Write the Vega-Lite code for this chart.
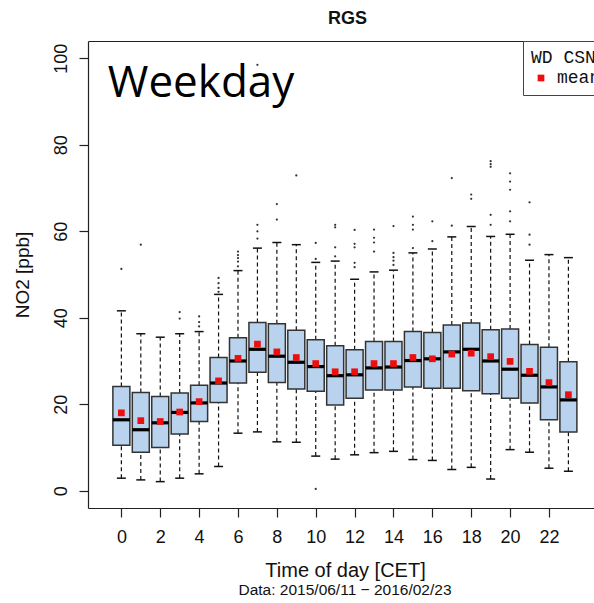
{
  "$schema": "https://vega.github.io/schema/vega-lite/v6.json",
  "width": 506,
  "height": 467,
  "autosize": {"type": "none"},
  "padding": {"left": 88, "top": 41, "right": 0, "bottom": 95},
  "background": "white",
  "config": {
    "view": {"stroke": null},
    "font": "Liberation Sans",
    "axis": {"domainColor": "#222", "tickColor": "#222", "labelColor": "#111", "titleColor": "#111", "grid": false, "domainWidth": 1.2, "tickWidth": 1.2}
  },
  "title": {
    "text": "Data: 2015/06/11 − 2016/02/23",
    "orient": "bottom",
    "frame": "group",
    "anchor": "middle",
    "dx": 4,
    "offset": 3,
    "baseline": "top",
    "fontSize": 15.5,
    "fontWeight": "normal",
    "font": "Liberation Sans",
    "color": "#111"
  },
  "datasets": {
    "boxes": [
      {"hour": 0, "lo": 2.9, "q1": 10.5, "med": 16.4, "q3": 24.1, "hi": 41.6, "mean": 18.0},
      {"hour": 1, "lo": 2.5, "q1": 8.9, "med": 14.1, "q3": 22.7, "hi": 36.3, "mean": 16.2},
      {"hour": 2, "lo": 2.1, "q1": 10.0, "med": 15.7, "q3": 21.8, "hi": 35.5, "mean": 16.0},
      {"hour": 3, "lo": 2.9, "q1": 13.1, "med": 18.1, "q3": 22.6, "hi": 36.3, "mean": 18.2},
      {"hour": 4, "lo": 3.9, "q1": 16.0, "med": 20.3, "q3": 24.4, "hi": 36.8, "mean": 20.6},
      {"hour": 5, "lo": 5.6, "q1": 20.4, "med": 24.9, "q3": 30.8, "hi": 45.4, "mean": 25.4},
      {"hour": 6, "lo": 13.3, "q1": 24.9, "med": 30.0, "q3": 35.4, "hi": 50.9, "mean": 30.6},
      {"hour": 7, "lo": 13.6, "q1": 27.4, "med": 32.7, "q3": 38.9, "hi": 56.1, "mean": 33.9},
      {"hour": 8, "lo": 11.3, "q1": 25.0, "med": 31.1, "q3": 38.6, "hi": 57.4, "mean": 32.1},
      {"hour": 9, "lo": 11.2, "q1": 23.5, "med": 29.7, "q3": 37.1, "hi": 56.9, "mean": 30.8},
      {"hour": 10, "lo": 8.0, "q1": 23.0, "med": 28.7, "q3": 34.9, "hi": 52.8, "mean": 29.4},
      {"hour": 11, "lo": 7.3, "q1": 19.8, "med": 26.6, "q3": 33.5, "hi": 53.1, "mean": 27.5},
      {"hour": 12, "lo": 8.3, "q1": 21.4, "med": 26.8, "q3": 32.6, "hi": 48.9, "mean": 27.5},
      {"hour": 13, "lo": 8.8, "q1": 23.3, "med": 28.4, "q3": 34.5, "hi": 50.6, "mean": 29.4},
      {"hour": 14, "lo": 9.1, "q1": 23.3, "med": 28.6, "q3": 34.5, "hi": 51.0, "mean": 29.4},
      {"hour": 15, "lo": 7.2, "q1": 24.0, "med": 30.1, "q3": 36.8, "hi": 55.0, "mean": 30.8},
      {"hour": 16, "lo": 7.0, "q1": 23.7, "med": 30.5, "q3": 36.6, "hi": 55.9, "mean": 30.5},
      {"hour": 17, "lo": 4.9, "q1": 23.7, "med": 32.1, "q3": 38.3, "hi": 58.7, "mean": 31.6},
      {"hour": 18, "lo": 5.4, "q1": 23.1, "med": 32.7, "q3": 38.8, "hi": 61.1, "mean": 31.8},
      {"hour": 19, "lo": 2.7, "q1": 22.4, "med": 30.0, "q3": 37.2, "hi": 58.8, "mean": 31.0},
      {"hour": 20, "lo": 9.5, "q1": 21.4, "med": 28.1, "q3": 37.4, "hi": 59.3, "mean": 29.9},
      {"hour": 21, "lo": 8.9, "q1": 20.3, "med": 26.7, "q3": 33.8, "hi": 53.3, "mean": 27.6},
      {"hour": 22, "lo": 5.2, "q1": 16.4, "med": 24.0, "q3": 33.2, "hi": 54.6, "mean": 25.0},
      {"hour": 23, "lo": 4.5, "q1": 13.6, "med": 21.0, "q3": 29.8, "hi": 53.9, "mean": 22.2}
    ],
    "outliers": [
      {"hour": 0, "v": 51.3},
      {"hour": 1, "v": 56.9},
      {"hour": 3, "v": 41.3}, {"hour": 3, "v": 39.8},
      {"hour": 4, "v": 40.3}, {"hour": 4, "v": 39.0}, {"hour": 4, "v": 38.0},
      {"hour": 5, "v": 49.2}, {"hour": 5, "v": 48.0}, {"hour": 5, "v": 46.9}, {"hour": 5, "v": 46.0},
      {"hour": 6, "v": 55.3}, {"hour": 6, "v": 54.5}, {"hour": 6, "v": 53.8}, {"hour": 6, "v": 53.0}, {"hour": 6, "v": 51.9},
      {"hour": 7, "v": 98.5}, {"hour": 7, "v": 61.5}, {"hour": 7, "v": 60.0}, {"hour": 7, "v": 58.3},
      {"hour": 8, "v": 66.3}, {"hour": 8, "v": 62.7},
      {"hour": 9, "v": 72.9},
      {"hour": 10, "v": 57.3}, {"hour": 10, "v": 53.6}, {"hour": 10, "v": 0.4},
      {"hour": 11, "v": 61.5}, {"hour": 11, "v": 60.9}, {"hour": 11, "v": 56.3}, {"hour": 11, "v": 54.2},
      {"hour": 12, "v": 60.3}, {"hour": 12, "v": 57.1}, {"hour": 12, "v": 56.3}, {"hour": 12, "v": 52.7}, {"hour": 12, "v": 51.7},
      {"hour": 13, "v": 60.4}, {"hour": 13, "v": 58.5}, {"hour": 13, "v": 57.4}, {"hour": 13, "v": 55.3},
      {"hour": 14, "v": 61.2}, {"hour": 14, "v": 55.0}, {"hour": 14, "v": 54.0}, {"hour": 14, "v": 53.2}, {"hour": 14, "v": 52.2},
      {"hour": 15, "v": 63.4}, {"hour": 15, "v": 61.5}, {"hour": 15, "v": 60.4}, {"hour": 15, "v": 56.1},
      {"hour": 16, "v": 62.3}, {"hour": 16, "v": 57.7},
      {"hour": 17, "v": 72.3}, {"hour": 17, "v": 61.3},
      {"hour": 18, "v": 68.5}, {"hour": 18, "v": 67.5},
      {"hour": 19, "v": 76.2}, {"hour": 19, "v": 75.5}, {"hour": 19, "v": 74.9}, {"hour": 19, "v": 63.8}, {"hour": 19, "v": 61.5},
      {"hour": 20, "v": 73.4}, {"hour": 20, "v": 71.5}, {"hour": 20, "v": 69.6}, {"hour": 20, "v": 64.6}, {"hour": 20, "v": 62.3},
      {"hour": 21, "v": 66.7}, {"hour": 21, "v": 59.2}, {"hour": 21, "v": 56.9}
    ]
  },
  "layer": [
    {
      "data": {"name": "boxes"},
      "mark": {"type": "rule", "color": "#111", "strokeWidth": 1.2, "strokeDash": [4, 3]},
      "encoding": {
        "x": {"field": "hour", "type": "quantitative", "scale": {"domain": [-1.46, 24.06], "nice": false, "zero": false}, "axis": null},
        "y": {"field": "lo", "type": "quantitative", "scale": {"domain": [-4, 104], "nice": false, "zero": false},
          "axis": {"orient": "left", "values": [0, 20, 40, 60, 80, 100], "tickSize": 9, "labelAngle": -90, "labelAlign": "center", "labelBaseline": "alphabetic", "labelPadding": 13, "labelFontSize": 18, "title": "NO2 [ppb]", "titleFontSize": 19, "titleFontWeight": "normal", "titleAngle": -90, "titleX": -66, "titleY": 233.5, "titleAlign": "center", "titleBaseline": "middle"}},
        "y2": {"field": "q1"}
      }
    },
    {
      "data": {"name": "boxes"},
      "mark": {"type": "rule", "color": "#111", "strokeWidth": 1.2, "strokeDash": [4, 3]},
      "encoding": {
        "x": {"field": "hour", "type": "quantitative", "scale": {"domain": [-1.46, 24.06], "nice": false, "zero": false}, "axis": null},
        "y": {"field": "q3", "type": "quantitative", "scale": {"domain": [-4, 104], "nice": false, "zero": false}, "axis": null},
        "y2": {"field": "hi"}
      }
    },
    {
      "data": {"name": "boxes"},
      "mark": {"type": "tick", "orient": "horizontal", "size": 9, "thickness": 1.5, "color": "#111", "opacity": 1},
      "encoding": {
        "x": {"field": "hour", "type": "quantitative", "scale": {"domain": [-1.46, 24.06], "nice": false, "zero": false}, "axis": null},
        "y": {"field": "lo", "type": "quantitative", "scale": {"domain": [-4, 104], "nice": false, "zero": false}, "axis": null}
      }
    },
    {
      "data": {"name": "boxes"},
      "mark": {"type": "tick", "orient": "horizontal", "size": 9, "thickness": 1.5, "color": "#111", "opacity": 1},
      "encoding": {
        "x": {"field": "hour", "type": "quantitative", "scale": {"domain": [-1.46, 24.06], "nice": false, "zero": false}, "axis": null},
        "y": {"field": "hi", "type": "quantitative", "scale": {"domain": [-4, 104], "nice": false, "zero": false}, "axis": null}
      }
    },
    {
      "data": {"name": "boxes"},
      "mark": {"type": "bar", "width": 17, "fill": "#b9d3ee", "stroke": "#333", "strokeWidth": 1.5, "opacity": 1},
      "encoding": {
        "x": {"field": "hour", "type": "quantitative", "scale": {"domain": [-1.46, 24.06], "nice": false, "zero": false},
          "axis": {"orient": "bottom", "values": [0, 2, 4, 6, 8, 10, 12, 14, 16, 18, 20, 22], "tickSize": 9, "labelFontSize": 18, "labelPadding": 11, "labelBaseline": "top", "labelFlush": false, "labelOverlap": false, "title": "Time of day [CET]", "titleFontSize": 20, "titleFontWeight": "normal", "titleX": 257, "titleY": 62, "titleAlign": "center", "titleBaseline": "middle"}},
        "y": {"field": "q1", "type": "quantitative", "scale": {"domain": [-4, 104], "nice": false, "zero": false}, "axis": null},
        "y2": {"field": "q3"}
      }
    },
    {
      "data": {"name": "boxes"},
      "mark": {"type": "tick", "orient": "horizontal", "size": 17, "thickness": 3.2, "color": "#000", "opacity": 1},
      "encoding": {
        "x": {"field": "hour", "type": "quantitative", "scale": {"domain": [-1.46, 24.06], "nice": false, "zero": false}, "axis": null},
        "y": {"field": "med", "type": "quantitative", "scale": {"domain": [-4, 104], "nice": false, "zero": false}, "axis": null}
      }
    },
    {
      "data": {"name": "outliers"},
      "mark": {"type": "point", "filled": true, "shape": "circle", "size": 5, "color": "#333", "opacity": 1},
      "encoding": {
        "x": {"field": "hour", "type": "quantitative", "scale": {"domain": [-1.46, 24.06], "nice": false, "zero": false},
          "axis": {"orient": "top", "labels": false, "ticks": false, "domain": true, "title": "RGS", "titleFontSize": 18, "titleFontWeight": "bold", "titleX": 259, "titleY": -23, "titleAlign": "center", "titleBaseline": "middle"}},
        "y": {"field": "v", "type": "quantitative", "scale": {"domain": [-4, 104], "nice": false, "zero": false}, "axis": null}
      }
    },
    {
      "data": {"name": "boxes"},
      "mark": {"type": "point", "filled": true, "shape": "square", "size": 45, "opacity": 1, "strokeWidth": 0},
      "encoding": {
        "x": {"field": "hour", "type": "quantitative", "scale": {"domain": [-1.46, 24.06], "nice": false, "zero": false}, "axis": null},
        "y": {"field": "mean", "type": "quantitative", "scale": {"domain": [-4, 104], "nice": false, "zero": false}, "axis": null},
        "color": {"datum": "mean", "scale": {"range": ["#ee0e0e"]},
          "legend": {"orient": "none", "legendX": 435, "legendY": 0, "title": "WD CSN", "titleFont": "Liberation Mono", "titleFontSize": 18, "titleFontWeight": "normal", "titleColor": "#111", "titlePadding": 2, "labelFont": "Liberation Mono", "labelFontSize": 18, "labelColor": "#111", "labelOffset": 7, "symbolType": "square", "symbolSize": 45, "symbolStrokeWidth": 0, "symbolOffset": 1, "strokeColor": "#444", "fillColor": "white", "padding": 8}}
      }
    },
    {
      "data": {"values": [{"label": "Weekday"}]},
      "mark": {"type": "text", "font": "Open Sans", "fontSize": 44, "align": "left", "baseline": "alphabetic", "color": "#000"},
      "encoding": {
        "x": {"datum": -0.7, "type": "quantitative", "scale": {"domain": [-1.46, 24.06], "nice": false, "zero": false}, "axis": null},
        "y": {"datum": 91, "type": "quantitative", "scale": {"domain": [-4, 104], "nice": false, "zero": false}, "axis": null},
        "text": {"field": "label"}
      }
    }
  ],
  "resolve": {"axis": {"x": "independent", "y": "independent"}}
}
